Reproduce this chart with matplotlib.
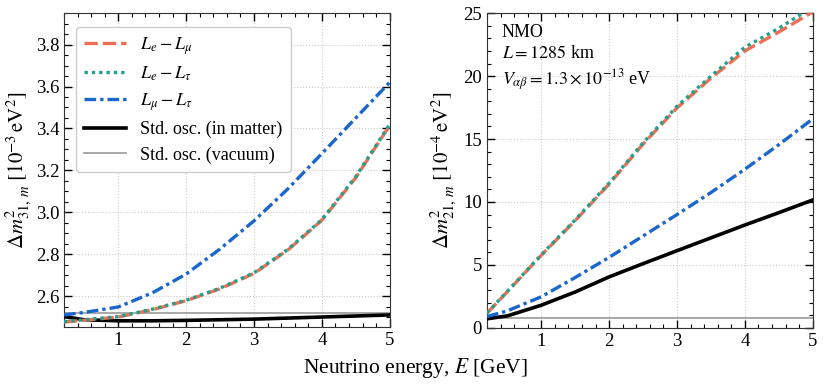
import numpy as np
import matplotlib
matplotlib.use('Agg')
import matplotlib.pyplot as plt
from matplotlib.ticker import MultipleLocator

plt.rcParams['font.family'] = 'serif'
plt.rcParams['font.serif'] = ['Liberation Serif', 'DejaVu Serif']
plt.rcParams['mathtext.fontset'] = 'stix'
plt.rcParams['font.size'] = 13

# energies (GeV)
E = [0.2, 0.5, 1, 1.5, 2, 2.5, 3, 3.5, 4, 4.5, 5]

# left panel: dm31^2 [1e-3 eV^2]
dm31_emu = [2.476, 2.485, 2.500, 2.535, 2.578, 2.635, 2.708, 2.820, 2.962, 3.165, 3.415]
dm31_etau = [2.478, 2.487, 2.502, 2.537, 2.580, 2.638, 2.711, 2.823, 2.965, 3.170, 3.420]
dm31_mutau = [2.510, 2.522, 2.548, 2.615, 2.705, 2.825, 2.959, 3.112, 3.280, 3.450, 3.620]
dm31_std = [2.502, 2.487, 2.482, 2.482, 2.484, 2.487, 2.490, 2.495, 2.500, 2.505, 2.510]
dm31_vac = 2.52

# right panel: dm21^2 [1e-4 eV^2]
dm21_emu = [1.16, 2.87, 5.76, 8.52, 11.42, 14.6, 17.47, 19.84, 22.0, 23.5, 25.1]
dm21_etau = [1.18, 2.90, 5.80, 8.58, 11.50, 14.7, 17.60, 20.00, 22.3, 23.8, 25.5]
dm21_mutau = [0.90, 1.35, 2.47, 4.00, 5.60, 7.30, 9.00, 10.75, 12.6, 14.55, 16.6]
dm21_std = [0.72, 0.95, 1.80, 2.85, 4.05, 5.10, 6.13, 7.15, 8.17, 9.15, 10.16]
dm21_vac = 0.75

c_emu = '#EC6F55'
c_etau = '#23A08C'
c_mutau = '#1A66CC'

fig = plt.figure(figsize=(8.31, 3.88), dpi=100)
ax1 = fig.add_axes([0.077, 0.157, 0.392, 0.809])
ax2 = fig.add_axes([0.586, 0.155, 0.392, 0.811])


def draw(ax, emu, etau, mutau, std, vac):
	ax.axhline(vac, color='#999999', lw=1.2, zorder=2, label='Std. osc. (vacuum)')
	ax.plot(E, std, color='black', lw=2.6, zorder=3, label='Std. osc. (in matter)')
	ax.plot(E, mutau, color=c_mutau, lw=2.4, ls=(0, (3.5, 1.2, 1, 1.2)), zorder=4,
		label=r'$L_\mu - L_\tau$')
	ax.plot(E, emu, color=c_emu, lw=2.4, ls=(0, (4, 1.5)), zorder=5, label=r'$L_e - L_\mu$')
	ax.plot(E, etau, color=c_etau, lw=2.4, ls=(0, (1, 1.2)), zorder=6, label=r'$L_e - L_\tau$')
	ax.set_xlim(0.2, 5)
	ax.xaxis.set_major_locator(MultipleLocator(1))
	ax.xaxis.set_minor_locator(MultipleLocator(0.2))
	ax.tick_params(which='both', direction='in', top=True, right=True, labelsize=13.5)
	ax.tick_params(which='major', length=6, width=1)
	ax.tick_params(which='minor', length=3, width=0.8)
	ax.grid(True, which='major', color='#cccccc', ls=':', lw=0.8)
	for s in ax.spines.values():
		s.set_color('#333333')


draw(ax1, dm31_emu, dm31_etau, dm31_mutau, dm31_std, dm31_vac)
ax1.set_ylim(2.452, 3.95)
ax1.yaxis.set_major_locator(MultipleLocator(0.2))
ax1.yaxis.set_minor_locator(MultipleLocator(0.05))
ax1.set_ylabel(r'$\Delta m^2_{31,\,m}\ [10^{-3}\,\mathrm{eV}^2]$', fontsize=15, labelpad=2)

h, l = ax1.get_legend_handles_labels()
order = [3, 4, 2, 1, 0]
ax1.legend([h[i] for i in order], [l[i] for i in order], loc='upper left',
	fontsize=13, handlelength=2.3, framealpha=1, edgecolor='#cccccc',
	borderpad=0.45, labelspacing=0.45, bbox_to_anchor=(0.01, 0.985))

draw(ax2, dm21_emu, dm21_etau, dm21_mutau, dm21_std, dm21_vac)
ax2.set_ylim(0, 25)
ax2.yaxis.set_major_locator(MultipleLocator(5))
ax2.yaxis.set_minor_locator(MultipleLocator(1))
ax2.set_ylabel(r'$\Delta m^2_{21,\,m}\ [10^{-4}\,\mathrm{eV}^2]$', fontsize=15, labelpad=4)
ax2.text(0.045, 0.965, 'NMO\n' + r'$L = 1285$ km' + '\n' + r'$V_{\alpha\beta} = 1.3\times10^{-13}$ eV',
	transform=ax2.transAxes, va='top', ha='left', fontsize=13, linespacing=1.3)

fig.text(0.5, 0.02, r'Neutrino energy, $E$ [GeV]', ha='center', va='bottom', fontsize=15.5)

fig.savefig('out.png', dpi=100)
